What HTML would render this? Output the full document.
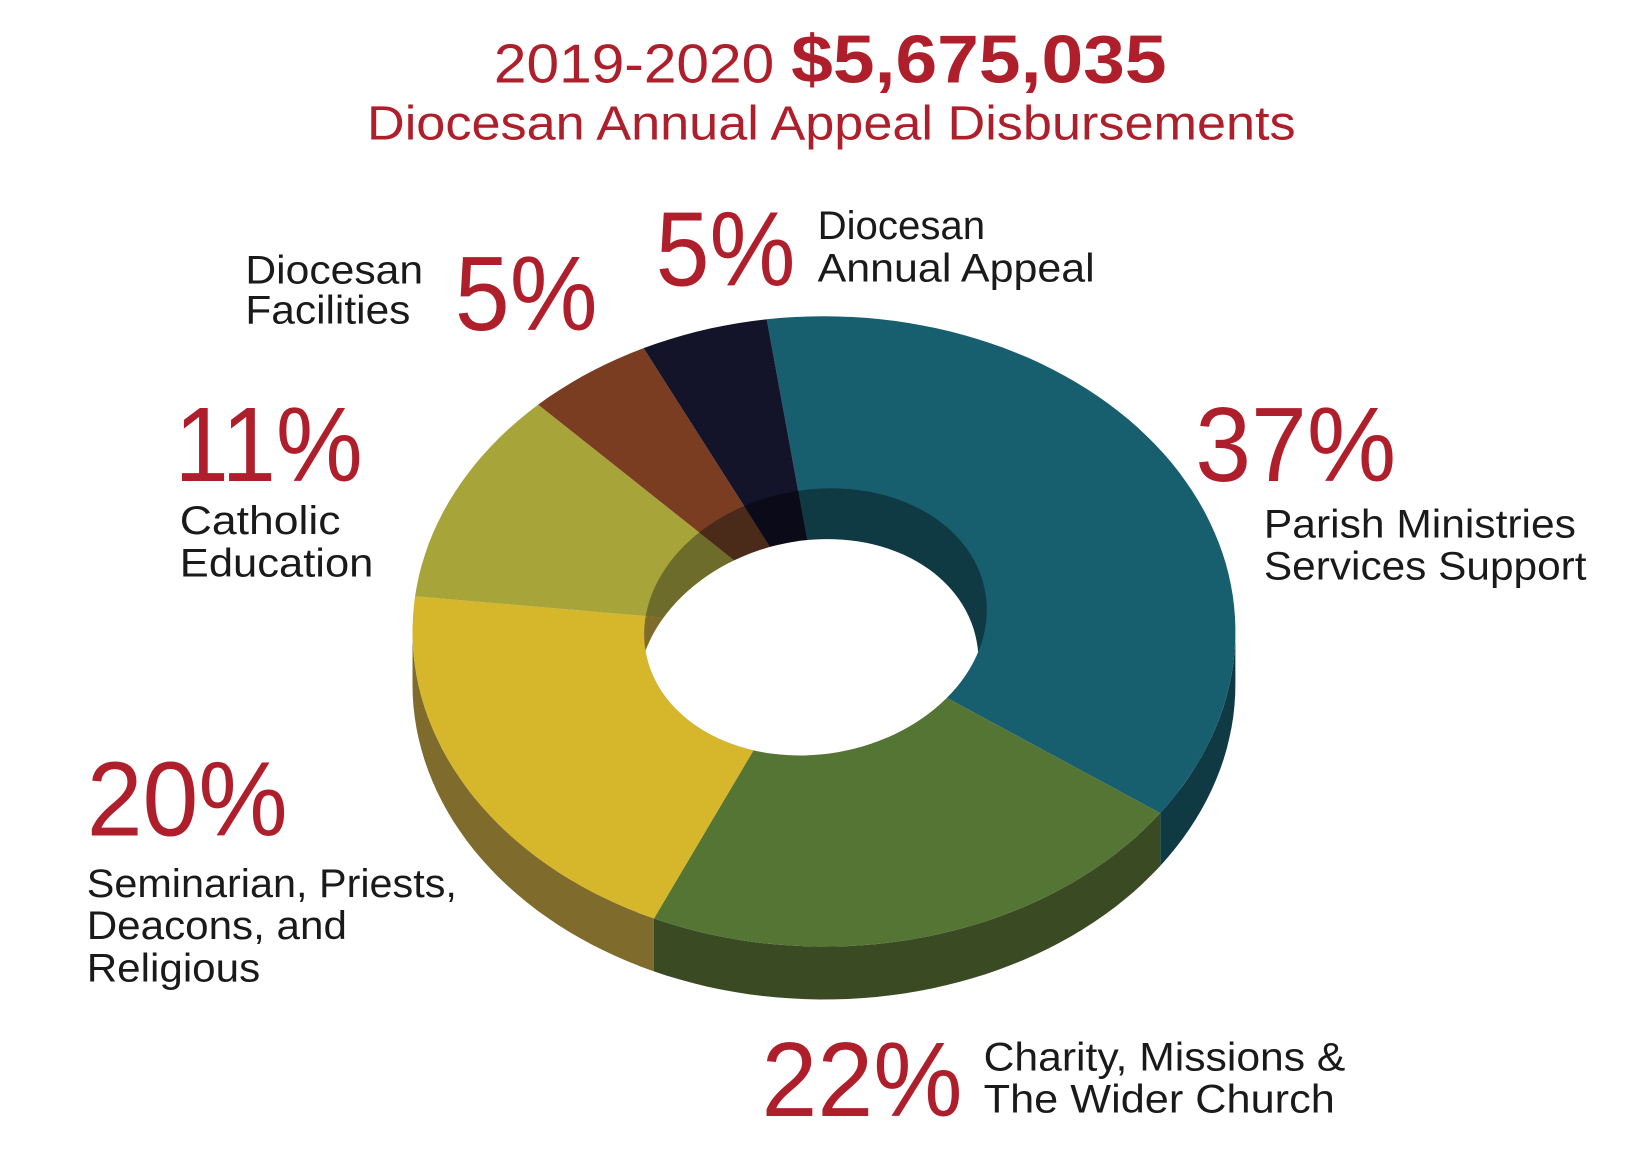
<!DOCTYPE html>
<html><head><meta charset="utf-8"><style>
html,body{margin:0;padding:0;background:#fff;}
svg{display:block;}
.t{font-family:"Liberation Sans",sans-serif;}
</style></head><body>
<svg id="chart" width="1650" height="1174" viewBox="0 0 1560 1110" preserveAspectRatio="none" xmlns="http://www.w3.org/2000/svg">
<g class="t" fill="#ae1f2b">
 <text x="467" y="78" font-size="52" textLength="265" lengthAdjust="spacingAndGlyphs">2019-2020</text>
 <text x="748" y="78" font-size="64" font-weight="bold" textLength="355" lengthAdjust="spacingAndGlyphs">$5,675,035</text>
 <text x="347" y="132" font-size="46" textLength="878" lengthAdjust="spacingAndGlyphs">Diocesan Annual Appeal Disbursements</text>
</g>
<defs><clipPath id="holeClip"><ellipse id="holeEl" cx="771" cy="588" rx="163" ry="125" transform="rotate(-10 771 588)"/></clipPath></defs>
<g id="sides"></g>
<g id="tops"></g>
<g id="hole" clip-path="url(#holeClip)"></g>
<g class="t">
 <text x="620" y="270" font-size="100" fill="#ae1f2b" textLength="132" lengthAdjust="spacingAndGlyphs">5%</text>
 <text x="773" y="226" font-size="38" fill="#1a1a1a">Diocesan</text>
 <text x="773" y="266" font-size="38" fill="#1a1a1a" textLength="262" lengthAdjust="spacingAndGlyphs">Annual Appeal</text>
 <text x="430" y="312" font-size="100" fill="#ae1f2b" textLength="135" lengthAdjust="spacingAndGlyphs">5%</text>
 <text x="232" y="268" font-size="38" fill="#1a1a1a" textLength="168" lengthAdjust="spacingAndGlyphs">Diocesan</text>
 <text x="232" y="306" font-size="38" fill="#1a1a1a" textLength="156" lengthAdjust="spacingAndGlyphs">Facilities</text>
 <text x="165" y="455" font-size="100" fill="#ae1f2b" textLength="178" lengthAdjust="spacingAndGlyphs">11%</text>
 <text x="170" y="505" font-size="38" fill="#1a1a1a" textLength="152" lengthAdjust="spacingAndGlyphs">Catholic</text>
 <text x="170" y="545" font-size="38" fill="#1a1a1a" textLength="183" lengthAdjust="spacingAndGlyphs">Education</text>
 <text x="1130" y="455" font-size="100" fill="#ae1f2b" textLength="190" lengthAdjust="spacingAndGlyphs">37%</text>
 <text x="1195" y="508" font-size="38" fill="#1a1a1a" textLength="295" lengthAdjust="spacingAndGlyphs">Parish Ministries</text>
 <text x="1195" y="548" font-size="38" fill="#1a1a1a" textLength="305" lengthAdjust="spacingAndGlyphs">Services Support</text>
 <text x="82" y="790" font-size="100" fill="#ae1f2b" textLength="190" lengthAdjust="spacingAndGlyphs">20%</text>
 <text x="82" y="848" font-size="38" fill="#1a1a1a" textLength="350" lengthAdjust="spacingAndGlyphs">Seminarian, Priests,</text>
 <text x="82" y="888" font-size="38" fill="#1a1a1a" textLength="246" lengthAdjust="spacingAndGlyphs">Deacons, and</text>
 <text x="82" y="928" font-size="38" fill="#1a1a1a" textLength="164" lengthAdjust="spacingAndGlyphs">Religious</text>
 <text x="720" y="1055" font-size="100" fill="#ae1f2b" textLength="190" lengthAdjust="spacingAndGlyphs">22%</text>
 <text x="930" y="1012" font-size="38" fill="#1a1a1a" textLength="342" lengthAdjust="spacingAndGlyphs">Charity, Missions &amp;</text>
 <text x="930" y="1052" font-size="38" fill="#1a1a1a" textLength="332" lengthAdjust="spacingAndGlyphs">The Wider Church</text>
</g>
</svg>
<script>
const categories = ["Parish Ministries Services Support","Charity, Missions & The Wider Church","Seminarian, Priests, Deacons, and Religious","Catholic Education","Diocesan Facilities","Diocesan Annual Appeal"];
const values = [37, 22, 20, 11, 5, 5];
const topColors = ["#175e6e","#557535","#d6b62a","#a7a43a","#7a3d22","#13132a"];
const sideColors = ["#0f3a44","#3a4a22","#7f6c2c","#6e6c2a","#4a2a18","#0a0a18"];

const NS = "http://www.w3.org/2000/svg";
const cx = 779, cy = 597, rx = 389, ry = 298, depth = 50, startDeg = -8;
const total = values.reduce((a,b)=>a+b,0);
function angleScale(v){ return startDeg + v/total*360; }
function pt(deg, dy){ const r = deg*Math.PI/180; return [cx + rx*Math.sin(r), cy - ry*Math.cos(r) + (dy||0)]; }
function arcPts(a0,a1,dy){ const pts=[]; const n=Math.max(2,Math.ceil(Math.abs(a1-a0)/2)); for(let i=0;i<=n;i++){ pts.push(pt(a0+(a1-a0)*i/n,dy)); } return pts; }
function d(pts){ return "M"+pts.map(p=>p[0].toFixed(1)+","+p[1].toFixed(1)).join("L")+"Z"; }

const sides = document.getElementById("sides");
const tops = document.getElementById("tops");
const hole = document.getElementById("hole");
let cum = 0;
values.forEach((v,i)=>{
  const a0 = angleScale(cum), a1 = angleScale(cum+v); cum += v;
  // side wall: only front half (angles 90..270)
  const s0 = Math.max(a0,90), s1 = Math.min(a1,270);
  if (s1 > s0) {
    const top = arcPts(s0,s1,0), bot = arcPts(s1,s0,depth);
    const side = document.createElementNS(NS,"path");
    
    
    side.setAttribute("d", d(top.concat(bot)));
    side.setAttribute("fill", sideColors[i]);
    sides.appendChild(side);
  }
  const face = document.createElementNS(NS,"path");
  
  
  face.setAttribute("d", d([[cx,cy]].concat(arcPts(a0,a1,0))));
  face.setAttribute("fill", topColors[i]);
  const tt = document.createElementNS(NS,"title"); tt.textContent = categories[i]+": "+v+"%"; face.appendChild(tt);
  tops.appendChild(face);
  const wall = document.createElementNS(NS,"path");
  
  
  wall.setAttribute("d", d([[cx,cy]].concat(arcPts(a0,a1,0))));
  wall.setAttribute("fill", sideColors[i]);
  hole.appendChild(wall);
});
const white = document.createElementNS(NS,"ellipse");


white.setAttribute("cx", 764); white.setAttribute("cy", 640);
white.setAttribute("rx", 163); white.setAttribute("ry", 128);
white.setAttribute("transform", "rotate(-14 764 640)");
white.setAttribute("fill", "#ffffff");
hole.appendChild(white);
</script>
</body></html>
